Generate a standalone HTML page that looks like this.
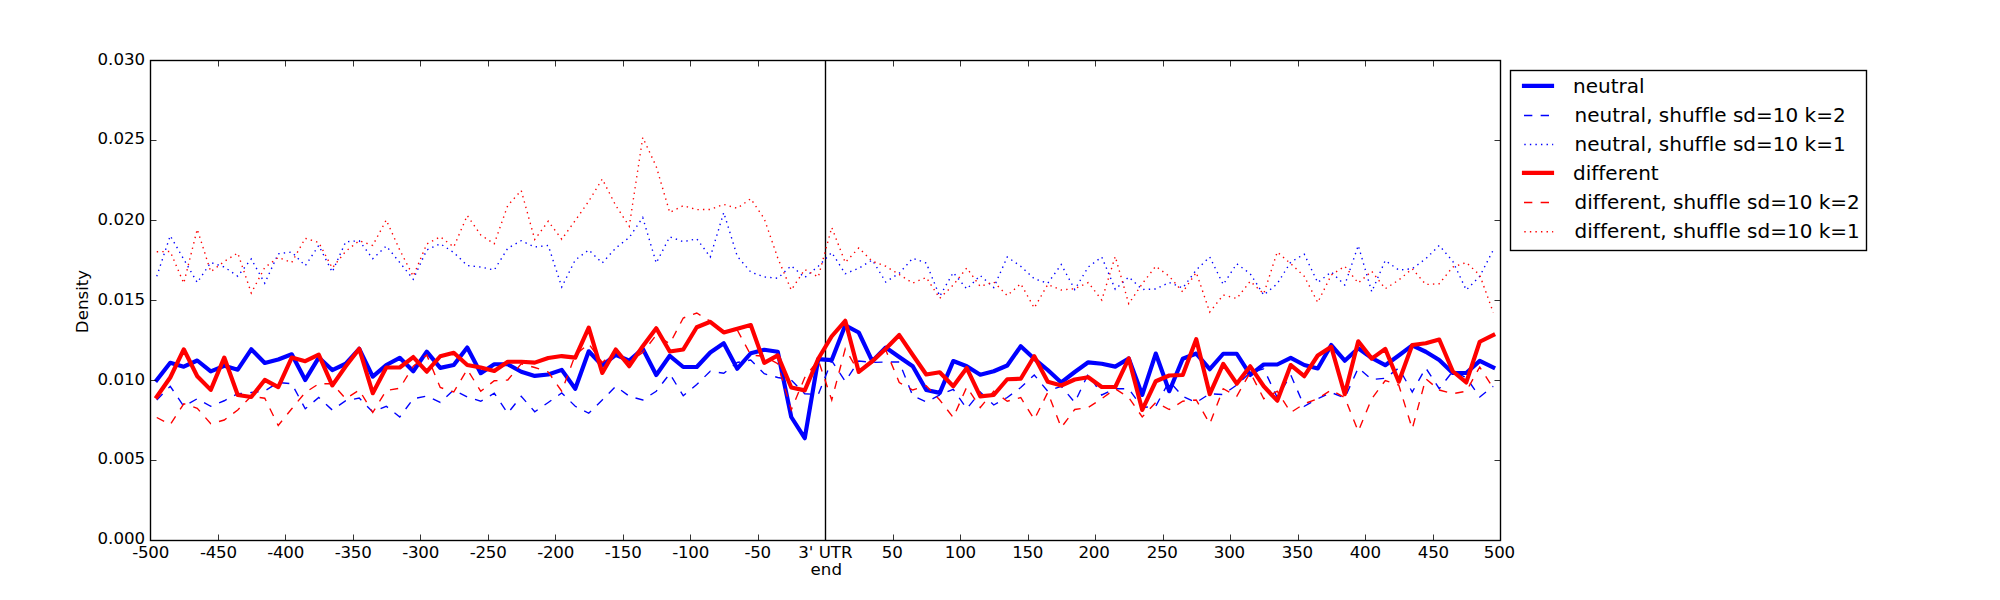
<!DOCTYPE html>
<html><head><meta charset="utf-8"><title>Density plot</title>
<style>html,body{margin:0;padding:0;background:#fff}svg{display:block}text{font-family:"DejaVu Sans","Liberation Sans",sans-serif;fill:#000;font-variant-ligatures:none;font-feature-settings:"liga" 0,"clig" 0,"dlig" 0;font-kerning:none}</style></head><body>
<svg width="2000" height="600" viewBox="0 0 2000 600">
<rect x="0" y="0" width="2000" height="600" fill="#ffffff"/>
<defs><clipPath id="ax"><rect x="150" y="60" width="1350" height="480"/></clipPath></defs>
<g clip-path="url(#ax)" fill="none" stroke-miterlimit="10">
<line x1="825.5" y1="60" x2="825.5" y2="540" stroke="#000" stroke-width="1.39"/>
<polyline points="156.75,380.00 170.25,362.80 183.75,366.70 197.25,360.50 210.75,371.43 224.25,365.80 237.75,369.70 251.25,349.30 264.75,362.95 278.25,359.50 291.75,354.32 305.25,379.95 318.75,357.55 332.25,370.07 345.75,363.75 359.25,348.80 372.75,376.70 386.25,365.00 399.75,357.81 413.25,371.20 426.75,351.60 440.25,367.88 453.75,365.00 467.25,347.55 480.75,373.16 494.25,364.25 507.75,364.25 521.25,371.75 534.75,375.94 548.25,374.50 561.75,369.90 575.25,388.70 588.75,351.30 602.25,365.45 615.75,354.82 629.25,360.68 642.75,348.80 656.25,374.95 669.75,355.80 683.25,367.00 696.75,367.00 710.25,352.50 723.75,343.30 737.25,368.70 750.75,353.25 764.25,349.74 777.75,351.75 791.25,417.00 804.75,438.20 818.25,359.14 831.75,360.11 845.25,325.31 858.75,332.50 872.25,361.20 885.75,347.55 899.25,357.00 912.75,366.25 926.25,390.00 939.75,392.88 953.25,361.07 966.75,366.25 980.25,374.70 993.75,371.25 1007.25,365.50 1020.75,346.30 1034.25,358.75 1047.75,370.00 1061.25,382.45 1074.75,372.00 1088.25,362.31 1101.75,363.75 1115.25,366.62 1128.75,358.49 1142.25,394.95 1155.75,353.55 1169.25,391.20 1182.75,358.75 1196.25,353.57 1209.75,369.20 1223.25,353.75 1236.75,353.75 1250.25,374.95 1263.75,364.50 1277.25,364.50 1290.75,357.89 1304.25,365.00 1317.75,368.45 1331.25,345.05 1344.75,360.70 1358.25,348.30 1371.75,358.00 1385.25,365.19 1398.75,355.50 1412.25,345.43 1425.75,351.75 1439.25,360.00 1452.75,373.00 1466.25,373.00 1479.75,360.89 1493.25,367.50" stroke="#0000ff" stroke-width="4.17" stroke-linejoin="round" stroke-linecap="square"/>
<polyline points="156.75,400.00 170.25,386.25 183.75,406.25 197.25,398.75 210.75,406.25 224.25,400.75 237.75,393.75 251.25,392.50 264.75,391.00 278.25,382.50 291.75,383.75 305.25,408.75 318.75,397.50 332.25,410.00 345.75,400.75 359.25,398.00 372.75,412.00 386.25,406.25 399.75,417.00 413.25,398.75 426.75,396.00 440.25,402.50 453.75,390.00 467.25,397.00 480.75,401.25 494.25,393.25 507.75,413.25 521.25,396.25 534.75,411.75 548.25,402.50 561.75,393.00 575.25,406.25 588.75,413.25 602.25,400.00 615.75,386.25 629.25,396.25 642.75,400.00 656.25,391.25 669.75,373.75 683.25,395.75 696.75,384.50 710.25,371.25 723.75,373.25 737.25,362.50 750.75,360.00 764.25,373.75 777.75,377.50 791.25,380.00 804.75,393.75 818.25,394.50 831.75,360.75 845.25,381.25 858.75,361.00 872.25,362.50 885.75,362.00 899.25,362.00 912.75,395.75 926.25,402.00 939.75,395.00 953.25,389.25 966.75,408.75 980.25,392.00 993.75,405.00 1007.25,397.50 1020.75,387.50 1034.25,375.00 1047.75,391.25 1061.25,386.25 1074.75,402.50 1088.25,373.75 1101.75,395.00 1115.25,388.75 1128.75,388.75 1142.25,407.50 1155.75,406.25 1169.25,381.25 1182.75,396.25 1196.25,402.50 1209.75,393.75 1223.25,394.50 1236.75,385.00 1250.25,372.50 1263.75,368.75 1277.25,397.50 1290.75,375.00 1304.25,406.25 1317.75,398.75 1331.25,392.50 1344.75,398.00 1358.25,368.00 1371.75,379.50 1385.25,378.25 1398.75,368.00 1412.25,392.00 1425.75,368.00 1439.25,388.75 1452.75,371.25 1466.25,377.50 1479.75,397.00 1493.25,386.25" stroke="#0000ff" stroke-width="1.39" stroke-linejoin="miter" stroke-linecap="butt" stroke-dasharray="8.33 8.33"/>
<polyline points="156.75,276.25 170.25,235.75 183.75,259.25 197.25,282.50 210.75,262.50 224.25,267.00 237.75,276.25 251.25,259.00 264.75,283.25 278.25,253.75 291.75,252.00 305.25,265.75 318.75,245.50 332.25,272.00 345.75,241.75 359.25,240.75 372.75,258.75 386.25,246.00 399.75,262.50 413.25,279.25 426.75,250.00 440.25,243.75 453.75,252.50 467.25,265.50 480.75,267.00 494.25,270.00 507.75,248.25 521.25,240.75 534.75,247.00 548.25,245.50 561.75,287.00 575.25,260.00 588.75,250.00 602.25,263.00 615.75,248.00 629.25,237.50 642.75,217.50 656.25,263.00 669.75,236.75 683.25,241.75 696.75,238.75 710.25,257.00 723.75,212.50 737.25,256.25 750.75,272.00 764.25,277.00 777.75,278.25 791.25,265.75 804.75,277.50 818.25,266.25 831.75,252.50 845.25,273.75 858.75,268.25 872.25,260.00 885.75,282.00 899.25,273.25 912.75,258.25 926.25,263.00 939.75,296.25 953.25,272.50 966.75,289.00 980.25,275.50 993.75,287.50 1007.25,257.00 1020.75,266.25 1034.25,278.75 1047.75,283.25 1061.25,264.50 1074.75,289.50 1088.25,267.00 1101.75,257.00 1115.25,289.25 1128.75,277.00 1142.25,289.50 1155.75,289.00 1169.25,282.50 1182.75,288.00 1196.25,270.00 1209.75,257.00 1223.25,284.50 1236.75,263.75 1250.25,273.75 1263.75,295.00 1277.25,283.75 1290.75,262.00 1304.25,254.25 1317.75,282.50 1331.25,272.00 1344.75,285.00 1358.25,245.50 1371.75,291.75 1385.25,260.50 1398.75,270.00 1412.25,268.75 1425.75,258.75 1439.25,245.50 1452.75,261.25 1466.25,290.00 1479.75,276.25 1493.25,250.00" stroke="#0000ff" stroke-width="1.39" stroke-linejoin="miter" stroke-linecap="butt" stroke-dasharray="1.39 4.17"/>
<polyline points="156.75,396.80 170.25,377.50 183.75,349.30 197.25,376.25 210.75,389.90 224.25,357.55 237.75,395.00 251.25,397.01 264.75,379.93 278.25,387.07 291.75,357.59 305.25,361.16 318.75,354.71 332.25,385.45 345.75,366.25 359.25,348.80 372.75,393.20 386.25,367.50 399.75,367.50 413.25,357.05 426.75,371.70 440.25,356.25 453.75,352.80 467.25,365.00 480.75,367.50 494.25,370.95 507.75,361.75 521.25,361.75 534.75,362.61 548.25,358.00 561.75,356.06 575.25,357.69 588.75,327.55 602.25,372.95 615.75,349.55 629.25,366.20 642.75,346.25 656.25,328.30 669.75,351.51 683.25,349.50 696.75,327.25 710.25,321.79 723.75,332.49 737.25,328.75 750.75,325.01 764.25,362.86 777.75,355.39 791.25,387.50 804.75,390.38 818.25,358.75 831.75,336.25 845.25,320.80 858.75,371.95 872.25,361.25 885.75,348.75 899.25,335.05 912.75,355.00 926.25,374.51 939.75,372.24 953.25,386.20 966.75,368.05 980.25,396.44 993.75,395.00 1007.25,379.25 1020.75,378.75 1034.25,356.30 1047.75,381.75 1061.25,385.49 1074.75,379.50 1088.25,377.20 1101.75,387.00 1115.25,387.00 1128.75,358.45 1142.25,409.95 1155.75,381.25 1169.25,375.50 1182.75,375.00 1196.25,339.20 1209.75,394.20 1223.25,363.80 1236.75,383.70 1250.25,366.30 1263.75,386.25 1277.25,400.70 1290.75,365.05 1304.25,376.20 1317.75,355.50 1331.25,346.88 1344.75,394.20 1358.25,341.30 1371.75,358.62 1385.25,348.88 1398.75,381.70 1412.25,345.00 1425.75,343.25 1439.25,339.51 1452.75,371.25 1466.25,382.45 1479.75,341.75 1493.25,335.00" stroke="#ff0000" stroke-width="4.17" stroke-linejoin="round" stroke-linecap="square"/>
<polyline points="156.75,417.50 170.25,424.50 183.75,403.75 197.25,408.25 210.75,423.75 224.25,420.00 237.75,410.00 251.25,396.25 264.75,398.25 278.25,425.50 291.75,408.75 305.25,392.50 318.75,383.75 332.25,383.75 345.75,398.75 359.25,390.00 372.75,412.50 386.25,390.50 399.75,388.25 413.25,366.25 426.75,355.00 440.25,387.50 453.75,392.00 467.25,369.50 480.75,391.25 494.25,380.75 507.75,380.00 521.25,363.75 534.75,367.50 548.25,372.00 561.75,391.25 575.25,355.00 588.75,343.75 602.25,362.50 615.75,351.25 629.25,362.00 642.75,352.50 656.25,335.00 669.75,343.75 683.25,318.00 696.75,313.00 710.25,321.25 723.75,331.00 737.25,330.00 750.75,355.00 764.25,356.25 777.75,363.75 791.25,410.00 804.75,377.50 818.25,360.00 831.75,400.00 845.25,348.75 858.75,372.00 872.25,361.00 885.75,350.00 899.25,382.50 912.75,390.00 926.25,385.75 939.75,400.00 953.25,417.50 966.75,387.00 980.25,407.50 993.75,391.25 1007.25,401.25 1020.75,397.50 1034.25,419.50 1047.75,392.50 1061.25,427.50 1074.75,409.50 1088.25,407.50 1101.75,398.75 1115.25,388.75 1128.75,397.50 1142.25,417.00 1155.75,402.50 1169.25,409.50 1182.75,401.25 1196.25,400.00 1209.75,423.75 1223.25,388.75 1236.75,396.25 1250.25,372.50 1263.75,398.75 1277.25,391.25 1290.75,412.50 1304.25,403.75 1317.75,398.75 1331.25,390.00 1344.75,397.50 1358.25,431.25 1371.75,398.75 1385.25,380.50 1398.75,385.00 1412.25,428.75 1425.75,378.75 1439.25,390.00 1452.75,393.75 1466.25,391.25 1479.75,367.00 1493.25,388.00" stroke="#ff0000" stroke-width="1.39" stroke-linejoin="miter" stroke-linecap="butt" stroke-dasharray="8.33 8.33"/>
<polyline points="156.75,251.75 170.25,251.50 183.75,283.25 197.25,229.25 210.75,271.75 224.25,261.50 237.75,253.00 251.25,293.00 264.75,267.50 278.25,257.50 291.75,262.50 305.25,238.25 318.75,242.50 332.25,268.00 345.75,251.25 359.25,240.75 372.75,245.50 386.25,220.00 399.75,250.00 413.25,276.25 426.75,244.00 440.25,236.75 453.75,247.00 467.25,215.50 480.75,235.00 494.25,243.75 507.75,205.50 521.25,190.50 534.75,239.50 548.25,221.25 561.75,239.25 575.25,220.50 588.75,201.25 602.25,179.00 615.75,205.50 629.25,226.25 642.75,137.50 656.25,166.50 669.75,212.50 683.25,205.70 696.75,209.60 710.25,209.50 723.75,204.40 737.25,208.30 750.75,198.70 764.25,218.75 777.75,258.00 791.25,290.00 804.75,269.50 818.25,277.00 831.75,227.50 845.25,262.50 858.75,248.00 872.25,261.25 885.75,266.25 899.25,274.50 912.75,283.00 926.25,277.50 939.75,298.25 953.25,285.00 966.75,268.00 980.25,286.50 993.75,282.00 1007.25,295.50 1020.75,283.75 1034.25,308.00 1047.75,284.50 1061.25,290.00 1074.75,288.75 1088.25,282.50 1101.75,300.00 1115.25,256.50 1128.75,303.75 1142.25,283.75 1155.75,266.25 1169.25,276.25 1182.75,292.00 1196.25,272.50 1209.75,312.00 1223.25,295.00 1236.75,298.50 1250.25,281.25 1263.75,293.75 1277.25,252.00 1290.75,263.75 1304.25,276.25 1317.75,302.50 1331.25,275.00 1344.75,266.25 1358.25,283.00 1371.75,271.25 1385.25,288.75 1398.75,280.00 1412.25,268.75 1425.75,284.50 1439.25,283.75 1452.75,267.00 1466.25,262.50 1479.75,275.00 1493.25,312.50" stroke="#ff0000" stroke-width="1.39" stroke-linejoin="miter" stroke-linecap="butt" stroke-dasharray="1.39 4.17"/>
</g>
<rect x="150.5" y="60.5" width="1350" height="480" fill="none" stroke="#000" stroke-width="1.39"/>
<g stroke="#000" stroke-width="1" stroke-opacity="0.8"><line x1="150.50" y1="540.5" x2="150.50" y2="534.50"/><line x1="150.50" y1="60.5" x2="150.50" y2="66.50"/><line x1="218.50" y1="540.5" x2="218.50" y2="534.50"/><line x1="218.50" y1="60.5" x2="218.50" y2="66.50"/><line x1="285.50" y1="540.5" x2="285.50" y2="534.50"/><line x1="285.50" y1="60.5" x2="285.50" y2="66.50"/><line x1="353.50" y1="540.5" x2="353.50" y2="534.50"/><line x1="353.50" y1="60.5" x2="353.50" y2="66.50"/><line x1="420.50" y1="540.5" x2="420.50" y2="534.50"/><line x1="420.50" y1="60.5" x2="420.50" y2="66.50"/><line x1="488.50" y1="540.5" x2="488.50" y2="534.50"/><line x1="488.50" y1="60.5" x2="488.50" y2="66.50"/><line x1="555.50" y1="540.5" x2="555.50" y2="534.50"/><line x1="555.50" y1="60.5" x2="555.50" y2="66.50"/><line x1="623.50" y1="540.5" x2="623.50" y2="534.50"/><line x1="623.50" y1="60.5" x2="623.50" y2="66.50"/><line x1="690.50" y1="540.5" x2="690.50" y2="534.50"/><line x1="690.50" y1="60.5" x2="690.50" y2="66.50"/><line x1="758.50" y1="540.5" x2="758.50" y2="534.50"/><line x1="758.50" y1="60.5" x2="758.50" y2="66.50"/><line x1="825.50" y1="540.5" x2="825.50" y2="534.50"/><line x1="825.50" y1="60.5" x2="825.50" y2="66.50"/><line x1="893.50" y1="540.5" x2="893.50" y2="534.50"/><line x1="893.50" y1="60.5" x2="893.50" y2="66.50"/><line x1="960.50" y1="540.5" x2="960.50" y2="534.50"/><line x1="960.50" y1="60.5" x2="960.50" y2="66.50"/><line x1="1028.50" y1="540.5" x2="1028.50" y2="534.50"/><line x1="1028.50" y1="60.5" x2="1028.50" y2="66.50"/><line x1="1095.50" y1="540.5" x2="1095.50" y2="534.50"/><line x1="1095.50" y1="60.5" x2="1095.50" y2="66.50"/><line x1="1163.50" y1="540.5" x2="1163.50" y2="534.50"/><line x1="1163.50" y1="60.5" x2="1163.50" y2="66.50"/><line x1="1230.50" y1="540.5" x2="1230.50" y2="534.50"/><line x1="1230.50" y1="60.5" x2="1230.50" y2="66.50"/><line x1="1298.50" y1="540.5" x2="1298.50" y2="534.50"/><line x1="1298.50" y1="60.5" x2="1298.50" y2="66.50"/><line x1="1365.50" y1="540.5" x2="1365.50" y2="534.50"/><line x1="1365.50" y1="60.5" x2="1365.50" y2="66.50"/><line x1="1433.50" y1="540.5" x2="1433.50" y2="534.50"/><line x1="1433.50" y1="60.5" x2="1433.50" y2="66.50"/><line x1="1500.50" y1="540.5" x2="1500.50" y2="534.50"/><line x1="1500.50" y1="60.5" x2="1500.50" y2="66.50"/><line x1="150.5" y1="540.50" x2="156.50" y2="540.50"/><line x1="1500.5" y1="540.50" x2="1494.50" y2="540.50"/><line x1="150.5" y1="460.50" x2="156.50" y2="460.50"/><line x1="1500.5" y1="460.50" x2="1494.50" y2="460.50"/><line x1="150.5" y1="380.50" x2="156.50" y2="380.50"/><line x1="1500.5" y1="380.50" x2="1494.50" y2="380.50"/><line x1="150.5" y1="300.50" x2="156.50" y2="300.50"/><line x1="1500.5" y1="300.50" x2="1494.50" y2="300.50"/><line x1="150.5" y1="220.50" x2="156.50" y2="220.50"/><line x1="1500.5" y1="220.50" x2="1494.50" y2="220.50"/><line x1="150.5" y1="140.50" x2="156.50" y2="140.50"/><line x1="1500.5" y1="140.50" x2="1494.50" y2="140.50"/><line x1="150.5" y1="60.50" x2="156.50" y2="60.50"/><line x1="1500.5" y1="60.50" x2="1494.50" y2="60.50"/></g>
<g font-size="16.67px"><text x="150.80" y="558" text-anchor="middle" textLength="37.06" lengthAdjust="spacing">-500</text><text x="218.50" y="558" text-anchor="middle" textLength="37.06" lengthAdjust="spacing">-450</text><text x="285.80" y="558" text-anchor="middle" textLength="37.06" lengthAdjust="spacing">-400</text><text x="353.30" y="558" text-anchor="middle" textLength="37.06" lengthAdjust="spacing">-350</text><text x="420.80" y="558" text-anchor="middle" textLength="37.06" lengthAdjust="spacing">-300</text><text x="488.30" y="558" text-anchor="middle" textLength="37.06" lengthAdjust="spacing">-250</text><text x="555.80" y="558" text-anchor="middle" textLength="37.06" lengthAdjust="spacing">-200</text><text x="623.30" y="558" text-anchor="middle" textLength="37.06" lengthAdjust="spacing">-150</text><text x="690.80" y="558" text-anchor="middle" textLength="37.06" lengthAdjust="spacing">-100</text><text x="757.80" y="558" text-anchor="middle" textLength="26.72" lengthAdjust="spacing">-50</text><text x="825.4" y="558" text-anchor="middle">3' UTR</text><text x="826.3" y="574.6" text-anchor="middle">end</text><text x="892.30" y="558" text-anchor="middle" textLength="20.95" lengthAdjust="spacing">50</text><text x="960.50" y="558" text-anchor="middle" textLength="31.30" lengthAdjust="spacing">100</text><text x="1027.80" y="558" text-anchor="middle" textLength="31.30" lengthAdjust="spacing">150</text><text x="1094.10" y="558" text-anchor="middle" textLength="31.30" lengthAdjust="spacing">200</text><text x="1162.30" y="558" text-anchor="middle" textLength="31.30" lengthAdjust="spacing">250</text><text x="1229.50" y="558" text-anchor="middle" textLength="31.30" lengthAdjust="spacing">300</text><text x="1297.50" y="558" text-anchor="middle" textLength="31.30" lengthAdjust="spacing">350</text><text x="1365.40" y="558" text-anchor="middle" textLength="31.30" lengthAdjust="spacing">400</text><text x="1433.50" y="558" text-anchor="middle" textLength="31.30" lengthAdjust="spacing">450</text><text x="1499.50" y="558" text-anchor="middle" textLength="31.30" lengthAdjust="spacing">500</text><text x="145.2" y="544.15" text-anchor="end">0.000</text><text x="145.2" y="464.15" text-anchor="end">0.005</text><text x="145.2" y="385.15" text-anchor="end">0.010</text><text x="145.2" y="305.15" text-anchor="end">0.015</text><text x="145.2" y="225.15" text-anchor="end">0.020</text><text x="145.2" y="144.15" text-anchor="end">0.025</text><text x="145.2" y="65.15" text-anchor="end">0.030</text><text transform="translate(88,301.5) rotate(-90)" text-anchor="middle">Density</text></g>
<rect x="1510.5" y="70.5" width="356" height="180" fill="#fff" stroke="#000" stroke-width="1.39"/>
<line x1="1524" y1="85.8" x2="1552" y2="85.8" stroke="#0000ff" stroke-width="4.17" stroke-linecap="square"/>
<text x="1573.0" y="93" font-size="20px">neutral</text>
<line x1="1524" y1="115.5" x2="1552" y2="115.5" stroke="#0000ff" stroke-width="1.39" stroke-dasharray="8.33 8.33"/>
<text x="1574.6" y="122" font-size="20px">neutral, shuffle sd=10 k=2</text>
<line x1="1524.3" y1="144.5" x2="1553.2" y2="144.5" stroke="#0000ff" stroke-width="1.39" stroke-dasharray="1.39 4.17"/>
<text x="1574.6" y="150.8" font-size="20px">neutral, shuffle sd=10 k=1</text>
<line x1="1524" y1="172.8" x2="1552" y2="172.8" stroke="#ff0000" stroke-width="4.17" stroke-linecap="square"/>
<text x="1573.0" y="180" font-size="20px">different</text>
<line x1="1524" y1="202.5" x2="1552" y2="202.5" stroke="#ff0000" stroke-width="1.39" stroke-dasharray="8.33 8.33"/>
<text x="1574.6" y="208.8" font-size="20px">different, shuffle sd=10 k=2</text>
<line x1="1524.3" y1="231.7" x2="1553.2" y2="231.7" stroke="#ff0000" stroke-width="1.39" stroke-dasharray="1.39 4.17"/>
<text x="1574.6" y="237.5" font-size="20px">different, shuffle sd=10 k=1</text>
</svg></body></html>
